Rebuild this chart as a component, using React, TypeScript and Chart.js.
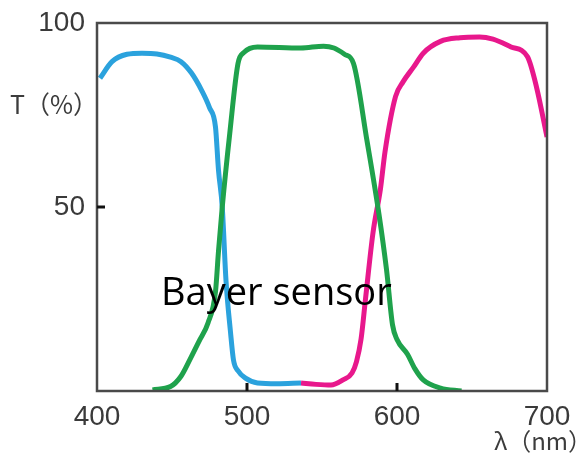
import React, { useEffect, useRef } from "react";
import { Chart, registerables } from "chart.js";

Chart.register(...registerables);

const xTickValues = [400, 500, 600, 700];
const yTickValues = [50, 100];

const blueX = [402, 410, 420, 430, 440, 449, 456, 463, 470, 475, 479, 481, 483.5, 486, 489, 491, 494, 499, 507, 520, 536];
const blueY = [85, 89.5, 91.5, 91.8, 91.6, 90.7, 89.5, 86.4, 81.5, 77, 71.7, 60, 50, 30, 16, 8.4, 5.5, 3.5, 2.2, 2, 2.2];

const greenX = [437, 449, 456, 462.5, 468, 474, 479, 481, 483.5, 488.5, 494, 498, 507, 536, 551, 558, 565, 571, 580, 588, 593, 597, 600, 607, 612, 617.5, 629, 643];
const greenY = [0.3, 1.2, 4, 9, 13.5, 18.5, 27, 38, 50, 70, 89, 92, 93.5, 93.2, 93.7, 93.2, 91.5, 89, 68, 48, 33, 18, 14, 10, 6, 3, 0.8, 0];

const pinkX = [536, 546, 556, 564, 570, 573, 576, 579, 584, 589, 592, 599, 604, 611, 617.5, 629, 642, 655, 664, 676, 687, 693, 700];
const pinkY = [2.2, 1.8, 1.6, 3, 4.9, 8, 14, 25, 43, 55, 65, 80, 84, 88, 91.8, 95, 96, 96.2, 95.6, 93.5, 90.8, 82.6, 69];

const yAxisTitle = "T（%）";
const xAxisTitle = "λ（nm）";
const annotation = "Bayer sensor";
const yTickMarks = [50];
const xTickMarks = [500, 600];

function pts(xs: number[], ys: number[]) {
  return xs.map((x, i) => ({ x, y: ys[i] }));
}

export default function App() {
  const ref = useRef<HTMLCanvasElement | null>(null);
  useEffect(() => {
    document.body.style.margin = "0";
    const canvas = ref.current!;
    const overlay = {
      id: "overlay",
      afterDatasetsDraw(chart: any) {
        const { ctx, chartArea: a, scales } = chart;
        ctx.save();
        ctx.strokeStyle = "#4a4a4a";
        ctx.lineWidth = 2.5;
        ctx.strokeRect(a.left, a.top, a.right - a.left, a.bottom - a.top);
        ctx.strokeStyle = "#111";
        ctx.lineWidth = 3;
        yTickMarks.forEach((v) => {
          const y = scales.y.getPixelForValue(v);
          ctx.beginPath();
          ctx.moveTo(a.left, y);
          ctx.lineTo(a.left + 8, y);
          ctx.stroke();
        });
        xTickMarks.forEach((v) => {
          const x = scales.x.getPixelForValue(v);
          ctx.beginPath();
          ctx.moveTo(x, a.bottom);
          ctx.lineTo(x, a.bottom - 8);
          ctx.stroke();
        });
        ctx.fillStyle = "#000";
        ctx.font = "38px 'Open Sans'";
        ctx.textBaseline = "alphabetic";
        ctx.textAlign = "left";
        ctx.fillText(annotation, 161, 305);
        ctx.fillStyle = "#3c3c3c";
        ctx.font = "25px 'Noto Sans CJK JP'";
        ctx.textBaseline = "middle";
        ctx.fillText(yAxisTitle, 10, 104);
        ctx.textAlign = "right";
        ctx.font = "24px 'Noto Sans CJK JP'";
        ctx.fillText(xAxisTitle, 592, 441);
        ctx.restore();
      },
    };
    const common = { borderWidth: 5, pointRadius: 0, fill: false, cubicInterpolationMode: "monotone" as const };
    const chart = new Chart(canvas, {
      type: "line",
      data: {
        datasets: [
          { ...common, data: pts(greenX, greenY), borderColor: "#1fa24c" },
          { ...common, data: pts(blueX, blueY), borderColor: "#2ba2dd" },
          { ...common, data: pts(pinkX, pinkY), borderColor: "#e8188c" },
        ],
      },
      options: {
        animation: false,
        responsive: false,
        layout: { padding: { top: 23, right: 36, left: 0, bottom: 0 } },
        plugins: { legend: { display: false }, tooltip: { enabled: false } },
        scales: {
          x: {
            type: "linear",
            min: 400,
            max: 700,
            afterBuildTicks: (s: any) => { s.ticks = xTickValues.map((v) => ({ value: v })); },
            afterFit: (s: any) => { s.height = 63; s.paddingLeft = 0; s.paddingRight = 0; },
            grid: { display: false, drawTicks: false },
            border: { display: false },
            ticks: { font: { family: "'Liberation Sans'", size: 28 }, color: "#3a3a3a", padding: 9, maxRotation: 0 },
          },
          y: {
            type: "linear",
            min: 0,
            max: 100,
            afterBuildTicks: (s: any) => { s.ticks = yTickValues.map((v) => ({ value: v })); },
            afterFit: (s: any) => { s.width = 97; s.paddingTop = 0; s.paddingBottom = 0; },
            grid: { display: false, drawTicks: false },
            border: { display: false },
            ticks: { font: { family: "'Liberation Sans'", size: 28 }, color: "#3a3a3a", padding: 12 },
          },
        },
      },
      plugins: [overlay],
    });
    return () => chart.destroy();
  }, []);
  return (
    <div style={{ width: 583, height: 454, background: "#fff" }}>
      <canvas ref={ref} width={583} height={454} style={{ display: "block" }} />
    </div>
  );
}
